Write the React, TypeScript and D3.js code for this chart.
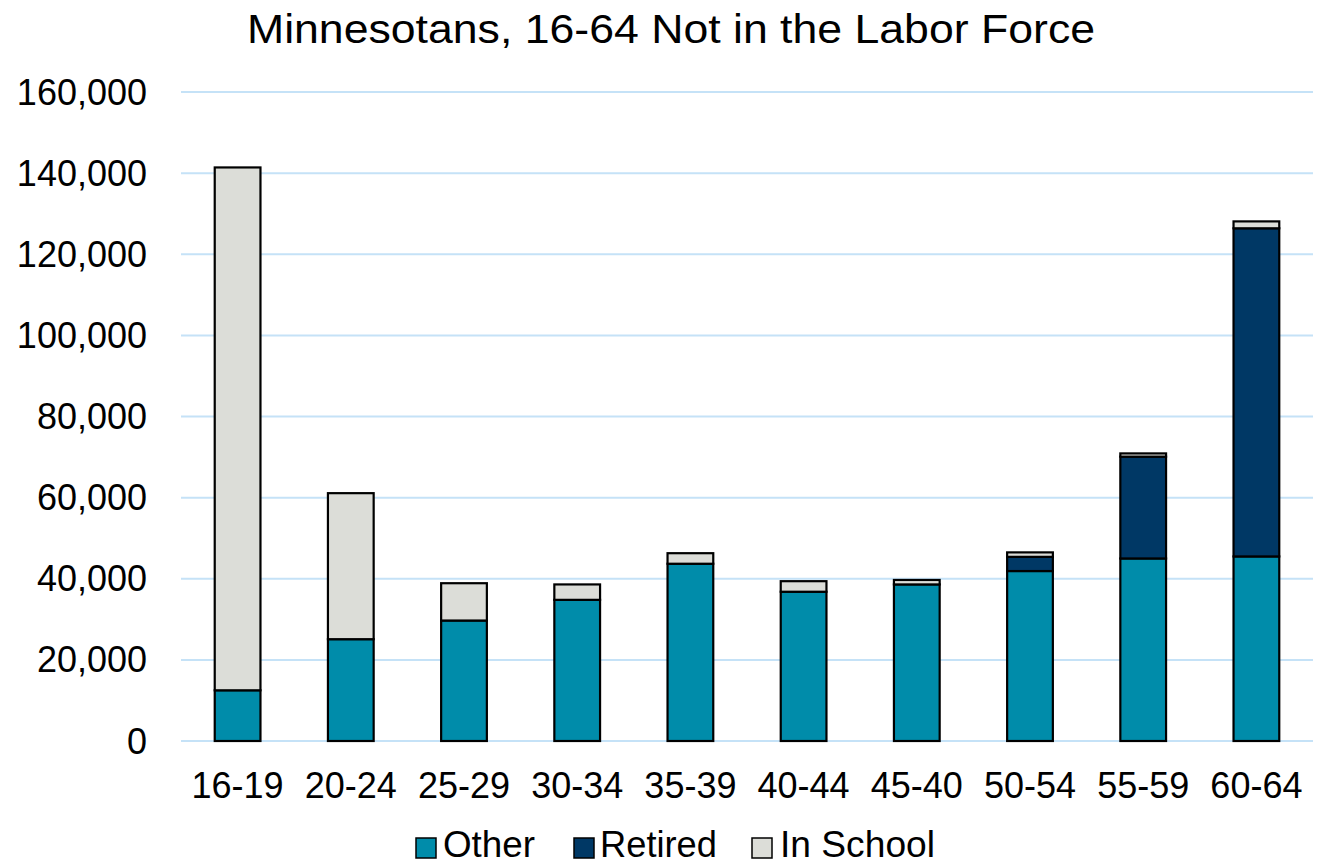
import React from "react";
import * as d3 from "d3";

const categories = ["16-19", "20-24", "25-29", "30-34", "35-39", "40-44", "45-40", "50-54", "55-59", "60-64"];
const other = [12500, 25100, 29700, 34800, 43700, 36800, 38600, 41900, 45000, 45500];
const retired = [0, 0, 0, 0, 0, 0, 0, 3500, 25100, 80900];
const inSchool = [128900, 36000, 9200, 3800, 2600, 2600, 1100, 1100, 800, 1700];
const seriesNames = ["Other", "Retired", "In School"];
const seriesColors = ["#008CAA", "#003865", "#DCDDD8"];
const yTicks = [0, 20000, 40000, 60000, 80000, 100000, 120000, 140000, 160000];
const title = "Minnesotans, 16-64 Not in the Labor Force";

const W = 1320;
const H = 866;
const plot = { left: 181, right: 1313, top: 92, bottom: 741 };
const FONT = "'Liberation Sans', Arial, sans-serif";

export default function App() {
  const x = d3
    .scaleBand<string>()
    .domain(categories)
    .range([plot.left, plot.right])
    .paddingInner(0.596)
    .paddingOuter(0.298);
  const y = d3.scaleLinear().domain([0, 160000]).range([plot.bottom, plot.top]);

  const rows = categories.map((c, i) => ({ cat: c, Other: other[i], Retired: retired[i], "In School": inSchool[i] }));
  const stack = d3.stack<any>().keys(seriesNames)(rows);
  const fmt = d3.format(",");

  const legendItems = [
    { name: "Other", sq: 416, tx: 443, len: 92 },
    { name: "Retired", sq: 574, tx: 600, len: 117 },
    { name: "In School", sq: 752, tx: 780, len: 155 },
  ];

  return (
    <svg width={W} height={H} style={{ position: "absolute", left: 0, top: 0, background: "#fff" }}>
      <rect x={0} y={0} width={W} height={H} fill="#fff" />
      <text
        x={247}
        y={43}
        textLength={848}
        lengthAdjust="spacingAndGlyphs"
        fontFamily={FONT}
        fontSize={40}
        fill="#000"
      >
        {title}
      </text>
      {yTicks.map((t) => (
        <g key={t}>
          <line x1={plot.left} x2={plot.right} y1={y(t)} y2={y(t)} stroke="#C5E2F7" strokeWidth={2} />
          <text x={147} y={y(t)} dy="0.35em" textAnchor="end" fontFamily={FONT} fontSize={36} fill="#000">
            {fmt(t)}
          </text>
        </g>
      ))}
      {stack.map((s, si) => (
        <g key={s.key}>
          {s.map((d, i) =>
            d[1] - d[0] > 0 ? (
              <rect
                key={i}
                x={x(categories[i])}
                y={y(d[1])}
                width={x.bandwidth()}
                height={y(d[0]) - y(d[1])}
                fill={seriesColors[si]}
                stroke="#000"
                strokeWidth={2.2}
              />
            ) : null
          )}
        </g>
      ))}
      {categories.map((c) => (
        <text
          key={c}
          x={(x(c) as number) + x.bandwidth() / 2}
          y={798}
          textAnchor="middle"
          fontFamily={FONT}
          fontSize={36}
          fill="#000"
        >
          {c}
        </text>
      ))}
      {legendItems.map((l, i) => (
        <g key={l.name}>
          <rect x={l.sq} y={838} width={20} height={20} fill={seriesColors[i]} stroke="#000" strokeWidth={1.5} />
          <text
            x={l.tx}
            y={857}
            textLength={l.len}
            lengthAdjust="spacingAndGlyphs"
            fontFamily={FONT}
            fontSize={36}
            fill="#000"
          >
            {l.name}
          </text>
        </g>
      ))}
    </svg>
  );
}
